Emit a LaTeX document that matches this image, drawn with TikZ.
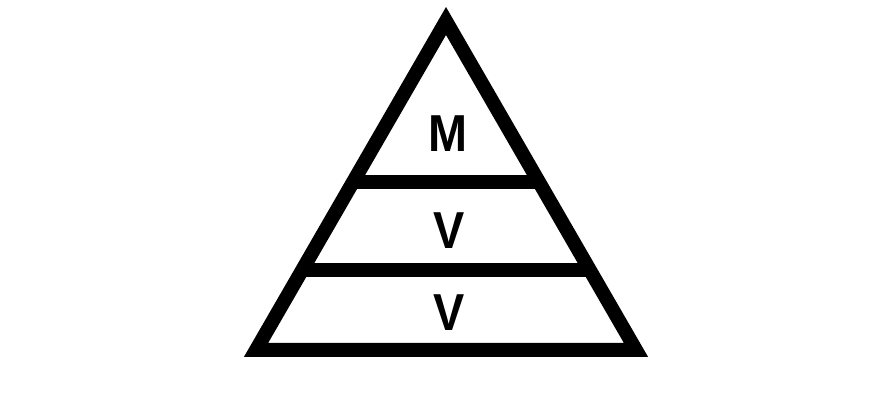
\documentclass[tikz,border=0pt]{standalone}
\usepackage{fontspec}
\usetikzlibrary{calc}
\newfontfamily\condfont[FakeStretch=0.9]{Liberation Sans}
\begin{document}
\begin{tikzpicture}[x=1pt,y=-1pt,
  edge/.style={line width=14pt,line join=miter,miter limit=10},
  lbl/.style={font=\condfont\bfseries\fontsize{52}{52}\selectfont,inner sep=0pt,anchor=center}]
\useasboundingbox (0,0) rectangle (894,411);
\coordinate (A) at (446,21);
\coordinate (L) at (256,350);
\coordinate (R) at (636,350);
\draw[edge] (A) -- (L) -- (R) -- cycle;
\coordinate (L1) at ($(A)!{(182-21)/329}!(L)$);
\coordinate (R1) at ($(A)!{(182-21)/329}!(R)$);
\coordinate (L2) at ($(A)!{(270-21)/329}!(L)$);
\coordinate (R2) at ($(A)!{(270-21)/329}!(R)$);
\draw[edge] (L1) -- (R1);
\draw[edge] (L2) -- (R2);
\node[lbl] (m) at (448,134) {M};
\node[lbl] (v1) at (449,231) {V};
\node[lbl] (v2) at (449,313) {V};
\end{tikzpicture}
\end{document}
